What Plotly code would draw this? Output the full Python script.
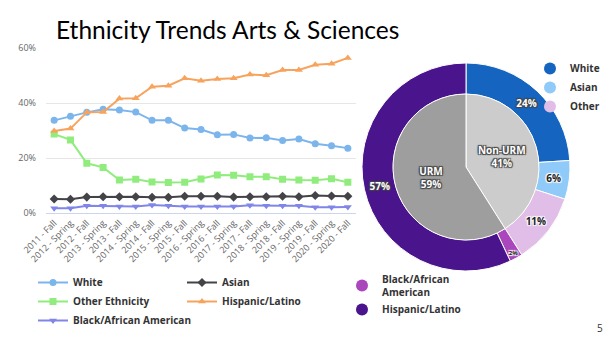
import plotly.graph_objects as go

terms = ["2011 - Fall", "2012 - Spring", "2012 - Fall", "2013 - Spring", "2013 - Fall",
         "2014 - Spring", "2014 - Fall", "2015 - Spring", "2015 - Fall", "2016 - Spring",
         "2016 - Fall", "2017 - Spring", "2017 - Fall", "2018 - Spring", "2018 - Fall",
         "2019 - Spring", "2019 - Fall", "2020 - Spring", "2020 - Fall"]

white = [33.8, 35.3, 36.7, 37.8, 37.6, 36.8, 33.8, 33.8, 31.0, 30.5, 28.6, 28.7, 27.4, 27.5, 26.5, 27.0, 25.3, 24.6, 23.7]
asian = [5.2, 5.1, 5.9, 6.0, 6.0, 6.0, 5.8, 5.8, 6.2, 6.2, 6.2, 5.9, 6.0, 6.0, 6.2, 6.0, 6.5, 6.3, 6.2]
other = [28.8, 26.7, 18.2, 16.7, 12.1, 12.4, 11.4, 11.2, 11.3, 12.5, 13.9, 13.8, 13.3, 13.3, 12.4, 12.1, 12.0, 12.6, 11.3]
hispanic = [29.9, 30.8, 36.7, 36.8, 41.7, 41.8, 46.0, 46.4, 49.1, 48.2, 48.8, 49.1, 50.5, 50.2, 52.1, 52.1, 54.0, 54.4, 56.5]
black = [1.8, 1.8, 2.7, 2.7, 2.5, 2.5, 3.0, 2.7, 2.5, 2.5, 2.5, 2.5, 2.9, 2.7, 2.7, 2.7, 2.2, 2.2, 2.3]

y_ticks = [0, 20, 40, 60]

inner_labels = ["Non-URM", "URM"]
inner_values = [41, 59]
outer_labels = ["White", "Asian", "Other", "Black/African American", "Hispanic/Latino"]
outer_legend_text = ["White", "Asian", "Other", "Black/African<br>American", "Hispanic/Latino"]
outer_values = [24, 6, 11, 2, 57]

line_series = [
    ("White", white, "#7cb5ec", "circle", "legend"),
    ("Asian", asian, "#434348", "diamond", "legend2"),
    ("Other Ethnicity", other, "#90ed7d", "square", "legend"),
    ("Hispanic/Latino", hispanic, "#f7a35c", "triangle-up", "legend2"),
    ("Black/African American", black, "#8085e9", "triangle-down", "legend"),
]

outer_colors = ["#1565c0", "#90caf9", "#e1bee7", "#ab47bc", "#4a148c"]
inner_colors = ["#cccccc", "#9e9e9e"]

fig = go.Figure()

for name, vals, color, sym, lg in line_series:
    fig.add_trace(go.Scatter(
        x=terms, y=vals, name=name, mode="lines+markers",
        line=dict(color=color, width=2),
        marker=dict(color=color, symbol=sym, size=7),
        legend=lg, hoverinfo="skip",
    ))

# legend entries for the pie (split in two groups like the reference)
for i, (lab, txt, col) in enumerate(zip(outer_labels, outer_legend_text, outer_colors)):
    fig.add_trace(go.Scatter(
        x=[None], y=[None], mode="markers", name=txt,
        marker=dict(color=col, size=12, symbol="circle"),
        legend="legend3" if i < 3 else "legend4",
    ))

fig.add_trace(go.Pie(
    labels=outer_labels, values=outer_values, sort=False, direction="clockwise",
    hole=0.70, domain=dict(x=[362/609, 570/609], y=[66/337, 274/337]),
    marker=dict(colors=outer_colors, line=dict(color="white", width=1)),
    texttemplate="%{value}%", textposition="inside", insidetextorientation="horizontal",
    textfont=dict(family="Open Sans", size=10, weight="bold", shadow="auto",
                  color=["white", "#222", "#222", "#222", "white"]),
    showlegend=False, hoverinfo="skip",
))

fig.add_trace(go.Pie(
    labels=inner_labels, values=inner_values, sort=False, direction="clockwise",
    domain=dict(x=[393/609, 539/609], y=[97/337, 243/337]),
    marker=dict(colors=inner_colors, line=dict(color="white", width=1)),
    texttemplate="%{label}<br>%{value}%", textposition="inside", insidetextorientation="horizontal",
    textfont=dict(family="Open Sans", size=10, weight="bold", color="white", shadow="auto"),
    showlegend=False, hoverinfo="skip",
))

legend_font = dict(family="Open Sans", size=10, color="#333333", weight="bold")
common_leg = dict(font=legend_font, bgcolor="rgba(0,0,0,0)", xanchor="left", yanchor="top",
                  orientation="v", itemclick=False)

fig.update_layout(
    width=609, height=337,
    margin=dict(l=0, r=0, t=0, b=0),
    paper_bgcolor="white", plot_bgcolor="white",
    font=dict(family="Open Sans"),
    xaxis=dict(domain=[46/609, 356/609], type="category", tickangle=-45,
               range=[-0.5, len(terms) - 0.5], automargin=False,
               tickfont=dict(size=9, color="#666666"), showgrid=False,
               showline=True, linecolor="#ccd6eb", linewidth=1, ticks=""),
    yaxis=dict(domain=[(337-213.3)/337, (337-48.3)/337], range=[0, 60], automargin=False,
               tickvals=y_ticks, ticktext=[f"{v}%" for v in y_ticks],
               tickfont=dict(size=9, color="#666666"), gridcolor="#e6e6e6",
               zeroline=False, ticklabelstandoff=9),
    legend=dict(x=33/609, y=(337-268)/337, **common_leg),
    legend2=dict(x=182/609, y=(337-268)/337, **common_leg),
    legend3=dict(x=530/609, y=(337-54)/337, **common_leg),
    legend4=dict(x=342/609, y=(337-266)/337, **common_leg),
    annotations=[
        dict(text="Ethnicity Trends Arts & Sciences", xref="paper", yref="paper",
             x=54/609, y=1 - 30/337, xanchor="left", yanchor="middle", showarrow=False,
             font=dict(family="Lato", size=24.5, color="black")),
        dict(text="5", xref="paper", yref="paper", x=600/609, y=0, xanchor="center",
             yanchor="bottom", showarrow=False, font=dict(family="Open Sans", size=10, color="#333")),
    ],
)

fig.write_html("out.html")
